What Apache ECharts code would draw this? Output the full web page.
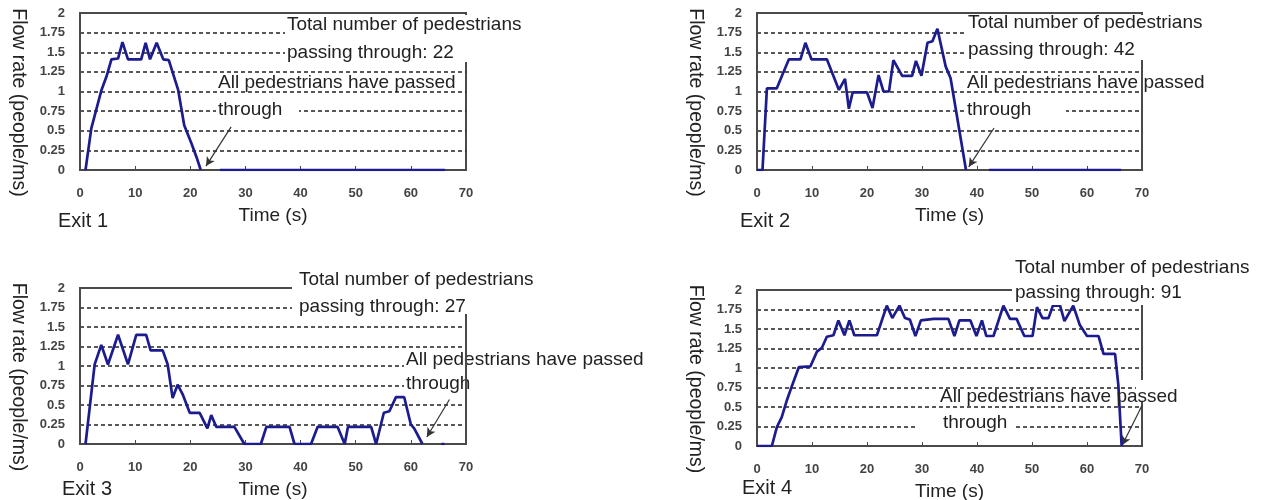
<!DOCTYPE html>
<html>
<head>
<meta charset="utf-8">
<script src="https://cdn.jsdelivr.net/npm/echarts@6/dist/echarts.min.js"></script>
<style>html,body{margin:0;padding:0;background:#fff}#c{width:1267px;height:500px}</style>
</head>
<body>
<div id="c"></div>
<script>
// ---- data ----
const exitNames = ['Exit 1', 'Exit 2', 'Exit 3', 'Exit 4'];
const totals = [22, 42, 27, 91];
const yTicks = ['0', '0.25', '0.5', '0.75', '1', '1.25', '1.5', '1.75', '2'];
const xTicks = [0, 10, 20, 30, 40, 50, 60, 70];

const exit1Time = [1, 2.05, 3.9, 4.8, 5.7, 6.9, 7.7, 8.7, 11.1, 11.9, 12.7, 13.9, 15.1, 16.1, 17.8, 18.9, 20.2, 21.1, 21.9, 23.5, 25.4, 66.2];
const exit1Flow = [0, 0.53, 1.02, 1.19, 1.41, 1.42, 1.63, 1.41, 1.41, 1.62, 1.41, 1.62, 1.41, 1.40, 1.02, 0.57, 0.34, 0.17, 0, '-', 0, 0];

const exit2Time = [0, 1.0, 1.8, 3.6, 4.6, 5.8, 7.9, 8.8, 9.9, 12.7, 14.9, 16.0, 16.7, 17.4, 20.0, 21.0, 22.1, 23.0, 24.0, 24.8, 26.4, 28.2, 28.9, 29.9, 31.0, 31.9, 32.8, 34.3, 35.2, 38.0, 40, 42.2, 66.2];
const exit2Flow = [0, 0, 1.04, 1.04, 1.21, 1.41, 1.41, 1.62, 1.41, 1.41, 1.02, 1.16, 0.78, 0.99, 0.99, 0.79, 1.21, 1.0, 1.0, 1.40, 1.20, 1.20, 1.39, 1.20, 1.62, 1.64, 1.80, 1.32, 1.17, 0, '-', 0, 0];

const exit3Time = [1, 2.66, 3.86, 5.07, 6.9, 8.7, 10.2, 12.0, 12.8, 15.0, 15.9, 16.8, 17.7, 18.6, 19.9, 21.7, 23.1, 23.8, 24.7, 28.0, 29.8, 32.8, 33.8, 38.0, 38.9, 41.9, 43.1, 46.7, 48.0, 48.6, 52.8, 53.7, 55.1, 56.1, 57.3, 58.8, 60.0, 60.6, 62.1, 64, 65.5, 66.1];
const exit3Flow = [0, 1.02, 1.27, 1.02, 1.40, 1.02, 1.40, 1.40, 1.20, 1.20, 1.02, 0.59, 0.76, 0.64, 0.40, 0.40, 0.20, 0.37, 0.22, 0.22, 0, 0, 0.22, 0.22, 0, 0, 0.22, 0.22, 0, 0.22, 0.22, 0, 0.40, 0.42, 0.60, 0.60, 0.25, 0.20, 0, '-', 0, 0];

const exit4Time = [0, 2.7, 3.6, 4.5, 5.45, 6.4, 7.6, 9.7, 10.9, 11.8, 12.7, 13.9, 14.8, 15.9, 16.8, 17.7, 21.8, 23.6, 24.6, 25.9, 26.9, 27.8, 28.8, 29.8, 32.1, 34.8, 35.9, 36.8, 38.8, 39.9, 40.9, 41.7, 43.0, 44.8, 46.0, 47.2, 48.6, 50.1, 50.9, 51.9, 53.0, 53.8, 55.1, 55.9, 57.5, 58.7, 60.0, 62.1, 63.0, 65.1, 65.7, 66.3];
const exit4Flow = [0, 0, 0.24, 0.37, 0.59, 0.78, 1.01, 1.02, 1.21, 1.26, 1.40, 1.42, 1.61, 1.42, 1.61, 1.42, 1.42, 1.80, 1.64, 1.80, 1.64, 1.62, 1.41, 1.61, 1.63, 1.63, 1.41, 1.61, 1.61, 1.41, 1.61, 1.41, 1.41, 1.80, 1.63, 1.63, 1.41, 1.41, 1.78, 1.64, 1.64, 1.80, 1.80, 1.60, 1.80, 1.55, 1.41, 1.41, 1.18, 1.18, 0.78, 0];

// arrow annotations (data coords: [time, flow] start -> end)
const arrowStart = [[27.4, 0.55], [43.1, 0.535], [67.0, 0.57], [70.0, 0.52]];
const arrowEnd = [[22.85, 0.05], [38.5, 0.04], [62.9, 0.09], [66.4, 0.01]];

// ---- chart ----
const times = [exit1Time, exit2Time, exit3Time, exit4Time];
const flows = [exit1Flow, exit2Flow, exit3Flow, exit4Flow];
const FONT = '"Liberation Sans", Arial, sans-serif';
const FRAME = '#4a4a4a';
const grids = [
  {left: 80, top: 13, width: 386, height: 157},
  {left: 757, top: 13, width: 385, height: 157},
  {left: 80, top: 288, width: 386, height: 156},
  {left: 757, top: 290, width: 385, height: 156}
].map(g => Object.assign(g, {show: true, borderColor: FRAME, borderWidth: 2, backgroundColor: 'transparent',
  containLabel: false, outerBoundsMode: 'none'}));

const xAxis = grids.map((g, i) => ({
  type: 'value', gridIndex: i, min: 0, max: 70, interval: 10,
  name: 'Time (s)', nameLocation: 'middle', nameGap: 36,
  nameTextStyle: {fontFamily: FONT, fontSize: 19, color: '#222'},
  axisLine: {show: true, onZero: false, lineStyle: {color: FRAME, width: 2}},
  axisTick: {show: true, inside: true, length: 4, lineStyle: {color: FRAME}},
  axisLabel: {fontFamily: FONT, fontSize: 13, fontWeight: 'bold', color: '#444', margin: 17,
    formatter: v => String(xTicks[Math.round(v / 10)])},
  splitLine: {show: false}
}));
const yAxis = grids.map((g, i) => ({
  type: 'value', gridIndex: i, min: 0, max: 2, interval: 0.25,
  name: 'Flow rate (people/ms)', nameLocation: 'middle', nameGap: 52, nameRotate: -90,
  nameTextStyle: {fontFamily: FONT, fontSize: 19.5, color: '#222', padding: [0, 0, 0, 22]},
  axisLine: {show: true, lineStyle: {color: FRAME, width: 2}},
  axisTick: {show: false},
  axisLabel: {fontFamily: FONT, fontSize: 13, fontWeight: 'bold', color: '#444', margin: 15,
    formatter: v => yTicks[Math.round(v / 0.25)]},
  splitLine: {show: true, showMaxLine: false, showMinLine: false,
    lineStyle: {color: '#222', width: 1.5, type: [4, 3]}}
}));
const series = times.map((t, i) => ({
  type: 'line', xAxisIndex: i, yAxisIndex: i, symbol: 'none', connectNulls: false, z: 5,
  lineStyle: {color: '#1c1c8e', width: 2.7}, itemStyle: {color: '#1c1c8e'},
  data: t.map((x, k) => [x, flows[i][k]]),
  markLine: {
    silent: true, symbol: ['none', 'arrow'], symbolSize: [7, 9], animation: false,
    lineStyle: {color: '#333', width: 1.2, type: 'solid'}, label: {show: false},
    data: [[{coord: arrowStart[i]}, {coord: arrowEnd[i]}]]
  }
}));

function txt(x, y, s, size) {
  return {type: 'text', x: x, y: y, z: 110,
    style: {text: s, fill: '#222', font: (size || 19) + 'px ' + FONT, verticalAlign: 'middle', align: 'left'}};
}
function box(x, y, w, h) {
  return {type: 'rect', z: 100, shape: {x: x, y: y, width: w, height: h}, style: {fill: '#fff'}};
}
const graphic = [
  // panel 1
  box(285, 15, 240, 47), txt(287, 25, 'Total number of pedestrians'), txt(287, 53, 'passing through: ' + totals[0]),
  box(216, 101, 83, 19), txt(218, 83, 'All pedestrians have passed'), txt(218, 110, 'through'),
  txt(58, 221, exitNames[0], 20),
  // panel 2
  box(964, 15, 303, 45), txt(968, 23, 'Total number of pedestrians'), txt(968, 50, 'passing through: ' + totals[1]),
  box(965, 101, 101, 19), txt(967, 83, 'All pedestrians have passed'), txt(967, 110, 'through'),
  txt(740, 221, exitNames[1], 20),
  // panel 3
  box(292, 266, 260, 49), txt(299, 280, 'Total number of pedestrians'), txt(299, 307, 'passing through: ' + totals[2]),
  box(404, 350, 260, 46), txt(406, 360, 'All pedestrians have passed'), txt(406, 384, 'through'),
  {type: 'line', z: 120, shape: {x1: 466, y1: 314, x2: 466, y2: 444}, style: {stroke: FRAME, lineWidth: 2}},
  txt(62, 489, exitNames[2], 20),
  // panel 4
  box(1012, 256, 255, 49), txt(1015, 268, 'Total number of pedestrians'), txt(1015, 293, 'passing through: ' + totals[3]),
  box(1136, 380, 60, 22), box(917, 415, 99, 19),
  txt(940, 397, 'All pedestrians have passed'), txt(943, 423, 'through'),
  txt(742, 488, exitNames[3], 20)
];

const chart = echarts.init(document.getElementById('c'), null, {renderer: 'canvas'});
chart.setOption({
  animation: false,
  backgroundColor: '#fff',
  grid: grids, xAxis: xAxis, yAxis: yAxis, series: series, graphic: graphic
});
</script>
</body>
</html>
